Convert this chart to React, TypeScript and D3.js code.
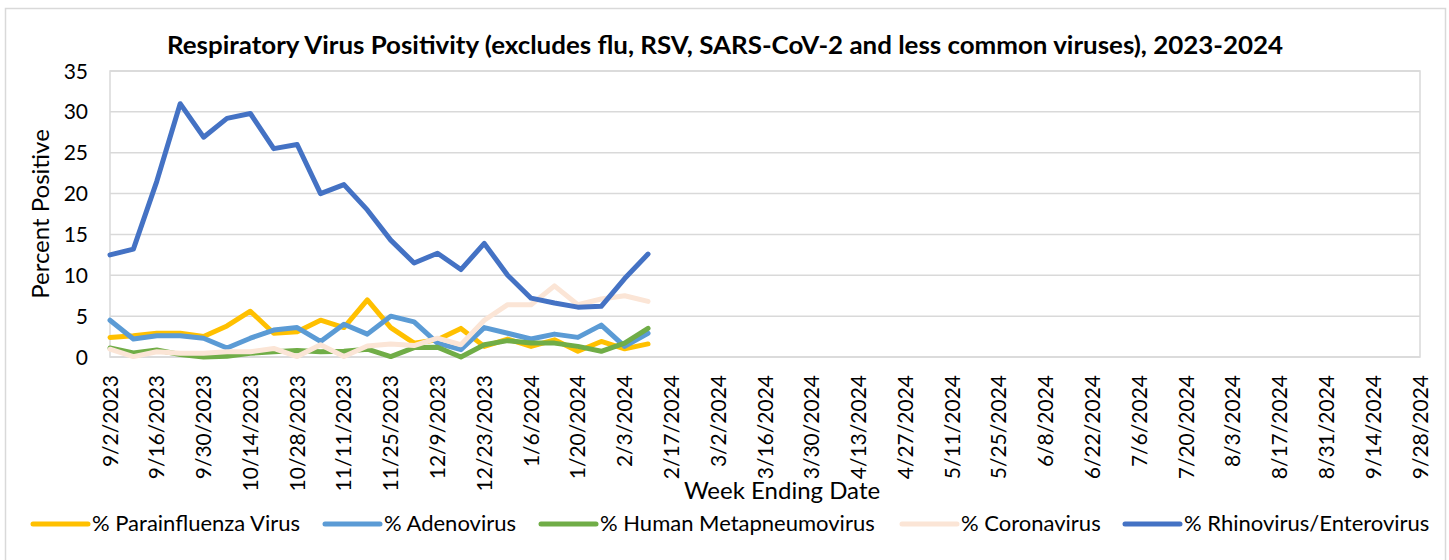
import { useEffect, useRef } from 'react';
import * as d3 from 'd3';

const weeks = [
  '9/2/2023', '9/9/2023', '9/16/2023', '9/23/2023', '9/30/2023', '10/7/2023', '10/14/2023',
  '10/21/2023', '10/28/2023', '11/4/2023', '11/11/2023', '11/18/2023', '11/25/2023', '12/2/2023',
  '12/9/2023', '12/16/2023', '12/23/2023', '12/30/2023', '1/6/2024', '1/13/2024', '1/20/2024',
  '1/27/2024', '2/3/2024', '2/10/2024', '2/17/2024', '2/24/2024', '3/2/2024', '3/9/2024',
  '3/16/2024', '3/23/2024', '3/30/2024', '4/6/2024', '4/13/2024', '4/20/2024', '4/27/2024',
  '5/4/2024', '5/11/2024', '5/18/2024', '5/25/2024', '6/1/2024', '6/8/2024', '6/15/2024',
  '6/22/2024', '6/29/2024', '7/6/2024', '7/13/2024', '7/20/2024', '7/27/2024', '8/3/2024',
  '8/10/2024', '8/17/2024', '8/24/2024', '8/31/2024', '9/7/2024', '9/14/2024', '9/21/2024',
  '9/28/2024',
];

const yTicks = [0, 5, 10, 15, 20, 25, 30, 35];

const parainfluenza = [2.4, 2.6, 2.9, 2.9, 2.5, 3.8, 5.6, 2.9, 3.1, 4.5, 3.6, 7.0, 3.6, 1.7, 2.1, 3.5, 1.3, 2.2, 1.3, 2.1, 0.7, 1.9, 1.0, 1.6];
const adenovirus = [4.5, 2.2, 2.6, 2.6, 2.3, 1.1, 2.3, 3.3, 3.6, 1.9, 4.0, 2.8, 5.0, 4.3, 1.7, 0.9, 3.6, 2.9, 2.2, 2.8, 2.4, 3.9, 1.3, 2.9];
const metapneumo = [1.1, 0.5, 0.85, 0.3, 0.0, 0.1, 0.45, 0.65, 0.8, 0.65, 0.7, 0.95, 0.05, 1.15, 1.2, 0.0, 1.5, 2.0, 1.7, 1.7, 1.3, 0.7, 1.7, 3.5];
const coronavirus = [0.95, 0.05, 0.65, 0.45, 0.45, 0.65, 0.65, 1.05, 0.05, 1.5, 0.05, 1.35, 1.6, 1.4, 2.3, 1.5, 4.5, 6.4, 6.4, 8.7, 6.4, 7.1, 7.5, 6.8];
const rhinovirus = [12.5, 13.2, 21.5, 31.0, 26.9, 29.2, 29.8, 25.5, 26.0, 20.0, 21.1, 18.0, 14.3, 11.5, 12.7, 10.7, 13.9, 10.0, 7.2, 6.6, 6.1, 6.2, 9.6, 12.6];

const series = [
  { name: '% Parainfluenza Virus', color: '#FFC000', values: parainfluenza, lx: 33 },
  { name: '% Adenovirus', color: '#5B9BD5', values: adenovirus, lx: 325 },
  { name: '% Human Metapneumovirus', color: '#70AD47', values: metapneumo, lx: 541 },
  { name: '% Coronavirus', color: '#FBE5D6', values: coronavirus, lx: 902 },
  { name: '% Rhinovirus/Enterovirus', color: '#4472C4', values: rhinovirus, lx: 1125 },
];

const FONT = 'Lato, "Open Sans", sans-serif';

function App() {
  const ref = useRef<SVGSVGElement>(null);

  useEffect(() => {
    const svg = d3.select(ref.current);
    svg.selectAll('*').remove();

    const left = 110, right = 1420, top = 71, bottom = 357;

    const x = d3.scalePoint().domain(weeks).range([left, right]);
    const y = d3.scaleLinear().domain([0, 35]).range([bottom, top]);

    // chart frame
    svg.append('rect')
      .attr('x', 5.5).attr('y', 8.5)
      .attr('width', 1440).attr('height', 600)
      .attr('fill', '#fff').attr('stroke', '#D9D9D9').attr('stroke-width', 1.5);

    svg.append('text')
      .attr('x', 725).attr('y', 54)
      .attr('text-anchor', 'middle')
      .attr('font-family', FONT).attr('font-weight', 'bold').attr('font-size', 25)
      .attr('textLength', 1116).attr('lengthAdjust', 'spacingAndGlyphs')
      .attr('fill', '#000')
      .text('Respiratory Virus Positivity (excludes flu, RSV, SARS-CoV-2 and less common viruses), 2023-2024');

    // gridlines
    svg.append('g').selectAll('line')
      .data(yTicks)
      .enter().append('line')
      .attr('x1', left).attr('x2', right)
      .attr('y1', (d) => y(d)).attr('y2', (d) => y(d))
      .attr('stroke', '#D9D9D9').attr('stroke-width', 1.5);

    svg.append('rect')
      .attr('x', left).attr('y', top)
      .attr('width', right - left).attr('height', bottom - top)
      .attr('fill', 'none').attr('stroke', '#D9D9D9').attr('stroke-width', 1.5);

    // y tick labels
    svg.append('g').selectAll('text')
      .data(yTicks)
      .enter().append('text')
      .attr('x', 88).attr('y', (d) => y(d))
      .attr('dy', '0.36em')
      .attr('text-anchor', 'end')
      .attr('font-family', FONT).attr('font-size', 21)
      .attr('fill', '#000')
      .text((d) => d);

    // x tick labels (every other week)
    svg.append('g').selectAll('text')
      .data(weeks.filter((d, i) => i % 2 === 0))
      .enter().append('text')
      .attr('transform', (d) => `translate(${x(d)},375) rotate(-90)`)
      .attr('dy', '0.36em')
      .attr('text-anchor', 'end')
      .attr('font-family', FONT).attr('font-size', 21)
      .attr('fill', '#000')
      .text((d) => d);

    svg.append('text')
      .attr('transform', 'translate(49,214) rotate(-90)')
      .attr('text-anchor', 'middle')
      .attr('font-family', FONT).attr('font-size', 24)
      .attr('fill', '#000')
      .text('Percent Positive');

    svg.append('text')
      .attr('x', 782).attr('y', 499)
      .attr('text-anchor', 'middle')
      .attr('font-family', FONT).attr('font-size', 24)
      .attr('fill', '#000')
      .text('Week Ending Date');

    const line = d3.line<number>()
      .x((d, i) => x(weeks[i]) as number)
      .y((d) => y(d));

    series.forEach((s) => {
      svg.append('path')
        .datum(s.values)
        .attr('d', line)
        .attr('fill', 'none')
        .attr('stroke', s.color)
        .attr('stroke-width', 5)
        .attr('stroke-linejoin', 'round')
        .attr('stroke-linecap', 'round');
    });

    // legend
    const lg = svg.append('g');
    series.forEach((s) => {
      lg.append('line')
        .attr('x1', s.lx).attr('x2', s.lx + 55)
        .attr('y1', 524).attr('y2', 524)
        .attr('stroke', s.color).attr('stroke-width', 5)
        .attr('stroke-linecap', 'round');
      lg.append('text')
        .attr('x', s.lx + 59).attr('y', 531)
        .attr('font-family', FONT).attr('font-size', 22)
        .attr('fill', '#000')
        .text(s.name);
    });
  }, []);

  return (
    <div>
      <svg ref={ref} width={1449} height={560} style={{ position: 'absolute', left: 0, top: 0 }} />
    </div>
  );
}

export default App;
